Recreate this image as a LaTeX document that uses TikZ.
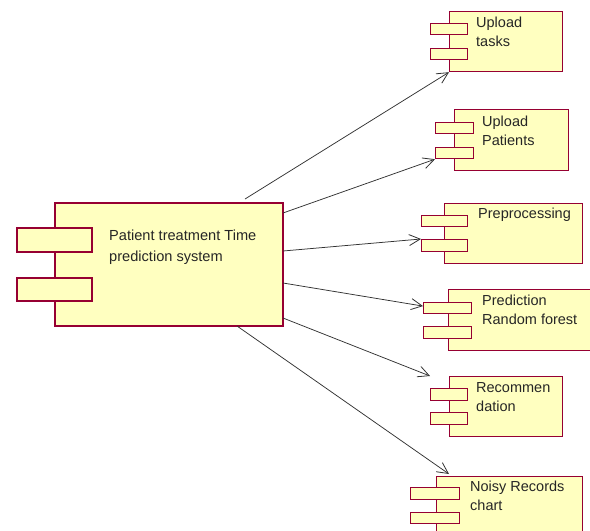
\documentclass[tikz,border=0pt]{standalone}
\usepackage{fontspec}
\setmainfont{Liberation Sans}
\usetikzlibrary{arrows.meta,calc}
\definecolor{cfill}{RGB}{255,255,192}
\definecolor{cborder}{RGB}{150,0,50}
\definecolor{cline}{RGB}{50,50,50}
\begin{document}
\begin{tikzpicture}[x=1pt,y=-1pt,
  comp/.style={draw=cborder,fill=cfill,line width=1.2pt,inner sep=0pt,anchor=north west},
  bigcomp/.style={comp,line width=1.6pt},
  lbl/.style={inner sep=0pt,anchor=base west,align=left,font=\fontsize{14.5}{19}\selectfont,text=black!85},
  biglbl/.style={lbl,font=\fontsize{14.6}{21}\selectfont},
  conn/.style={draw=cline,line width=0.75pt,-{Straight Barb[length=11pt,width=11pt,line width=0.8pt]}}]
\useasboundingbox (0,0) rectangle (590,531);
% main component
\node[bigcomp,minimum width=228pt,minimum height=123pt] (main) at (54,202) {};
\node[bigcomp,minimum width=75pt,minimum height=24pt] (mainp1) at (16,227) {};
\node[bigcomp,minimum width=75pt,minimum height=23pt] (mainp2) at (16,277) {};
\node[biglbl] (mainl) at (109,261) {Patient treatment Time\\prediction system};
% Upload tasks
\node[comp,minimum width=113pt,minimum height=60pt] (ut) at (449,11) {};
\node[comp,minimum width=37pt,minimum height=11pt] (ut1) at (430,23) {};
\node[comp,minimum width=37pt,minimum height=11pt] (ut2) at (430,48) {};
\node[lbl] (utl) at (476,46) {Upload\\tasks};
% Upload Patients
\node[comp,minimum width=114pt,minimum height=61pt] (up) at (454,109) {};
\node[comp,minimum width=38pt,minimum height=11pt] (up1) at (435,122) {};
\node[comp,minimum width=38pt,minimum height=11pt] (up2) at (435,147) {};
\node[lbl] (upl) at (482,145) {Upload\\Patients};
% Preprocessing
\node[comp,minimum width=138pt,minimum height=60pt] (pp) at (444,203) {};
\node[comp,minimum width=46pt,minimum height=11pt] (pp1) at (421,215) {};
\node[comp,minimum width=46pt,minimum height=12pt] (pp2) at (421,239) {};
\node[lbl] (ppl) at (478,218) {Preprocessing};
% Prediction Random forest
\node[comp,minimum width=143pt,minimum height=61pt] (pr) at (448,289) {};
\node[comp,minimum width=48pt,minimum height=11pt] (pr1) at (423,302) {};
\node[comp,minimum width=48pt,minimum height=12pt] (pr2) at (423,326) {};
\node[lbl] (prl) at (482,324) {Prediction\\Random forest};
% Recommendation
\node[comp,minimum width=113pt,minimum height=60pt] (rc) at (449,376) {};
\node[comp,minimum width=37pt,minimum height=12pt] (rc1) at (430,388) {};
\node[comp,minimum width=37pt,minimum height=12pt] (rc2) at (430,412) {};
\node[lbl] (rcl) at (476,411) {Recommen\\dation};
% Noisy Records chart
\node[comp,minimum width=146pt,minimum height=70pt] (nr) at (436,476) {};
\node[comp,minimum width=49pt,minimum height=12pt] (nr1) at (410,487) {};
\node[comp,minimum width=49pt,minimum height=11pt] (nr2) at (410,512) {};
\node[lbl] (nrl) at (470,510) {Noisy Records\\chart};
% connector start points on main component
\coordinate (s1) at (245,199);
\coordinate (s2) at (283,213);
\coordinate (s3) at (283,251);
\coordinate (s4) at (283,283);
\coordinate (s5) at (283,318);
\coordinate (s6) at (237,326);
\draw[conn] (s1) -- (ut.south west);
\draw[conn] (s2) -- (up2.south west);
\draw[conn] (s3) -- (pp2.north west);
\draw[conn] (s4) -- ($(pr1.west)+(0,-2)$);
\draw[conn] (s5) -- (rc1.west |- rc.north);
\draw[conn] (s6) -- ($(nr.north west)+(13,-2)$);
\end{tikzpicture}
\end{document}
